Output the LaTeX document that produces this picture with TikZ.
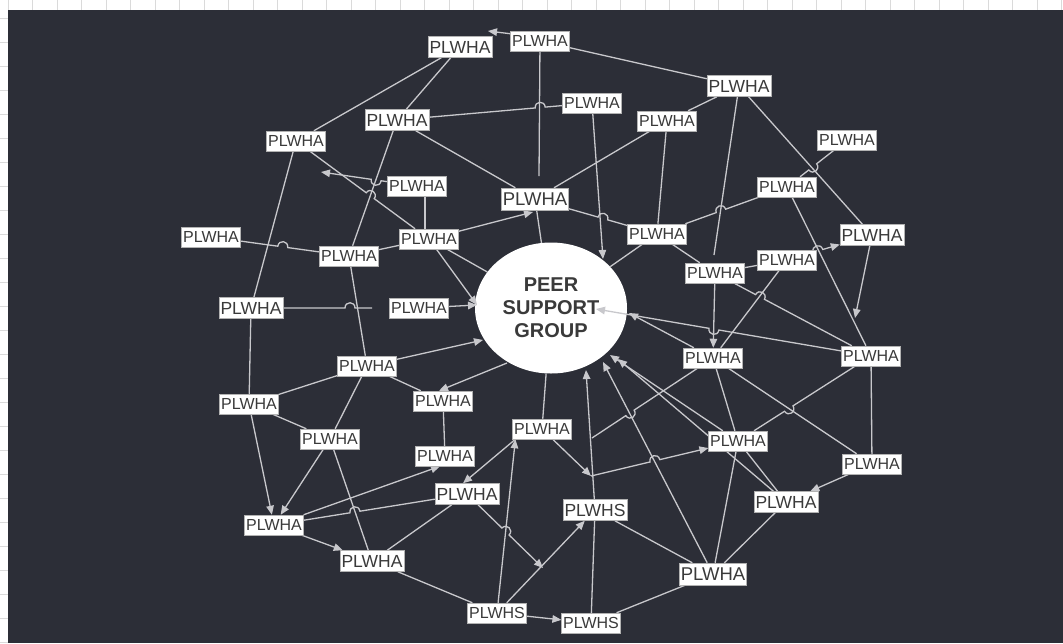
\documentclass[tikz,border=0pt]{standalone}
\usepackage{fontspec}
\setmainfont{Liberation Sans}
\usetikzlibrary{arrows.meta,shapes.geometric,calc}
\definecolor{panel}{HTML}{2C2E37}
\definecolor{wirecol}{HTML}{C8C8CC}
\definecolor{ink}{HTML}{3A3A3A}
\definecolor{gridln}{HTML}{DADADA}
\pgfdeclarelayer{back}
\pgfdeclarelayer{wires}
\pgfsetlayers{back,wires,main}
\tikzset{
  lbl/.style={fill=white, draw=black!30, line width=0.5pt, text=ink, inner xsep=1.5pt, inner ysep=0pt},
  pS/.style={lbl, font=\fontsize{16}{16}\selectfont, minimum height=20pt},
  pM/.style={lbl, font=\fontsize{17.5}{17.5}\selectfont, minimum height=21pt},
  pL/.style={lbl, font=\fontsize{18.5}{18.5}\selectfont, minimum height=22pt},
  wire/.style={draw=wirecol, line width=1.3pt},
  arr/.style={wire, -{Triangle[length=9pt,width=7.5pt]}},
  hub/.style={ellipse, fill=white, minimum width=152pt, minimum height=131pt, inner sep=0pt,
    align=center, font=\fontsize{20}{23}\selectfont\bfseries, text=ink}
}
% connector from #2 to #4 that hops over a crossing near the point #3
\newcommand{\jumpwire}[4][wire]{%
  \path ($(#2)!(#3)!(#4)$) coordinate (hopX);
  \path ($(hopX)!5pt!(#2)$) coordinate (hopA) ($(hopX)!5pt!(#4)$) coordinate (hopB);
  \draw[#1] (#2) -- (hopA) .. controls ($(hopA)!7pt!90:(hopX)$) and ($(hopB)!7pt!-90:(hopX)$) .. (hopB) -- (#4);
}
\begin{document}
\begin{tikzpicture}[x=1pt,y=-1pt]
\useasboundingbox (0,0) rectangle (1063,643);

% sheet grid and dark panel
\begin{pgfonlayer}{back}
  \fill[white] (0,0) rectangle (1063,643);
  \foreach \x in {8,32.5,...,1063} \draw[gridln,line width=0.8pt] (\x,0) -- (\x,10);
  \foreach \y in {18,42,...,643} \draw[gridln,line width=0.8pt] (0,\y) -- (8,\y);
  \fill[panel] (8,10) rectangle (1063,643);
  \node[hub] (c) at (551,308) {PEER\\SUPPORT\\GROUP};
\end{pgfonlayer}

% members
\node[pM] (a1)  at (460,47)  {PLWHA};
\node[pS] (a2)  at (540,41)  {PLWHA};
\node[pM] (a3)  at (739,86)  {PLWHA};
\node[pS] (a4)  at (592,103) {PLWHA};
\node[pM] (a5)  at (397,120) {PLWHA};
\node[pS] (a6)  at (667,121) {PLWHA};
\node[pS] (a7)  at (296,141) {PLWHA};
\node[pS] (a8)  at (847,140) {PLWHA};
\node[pS] (a9)  at (417,186) {PLWHA};
\node[pS] (a10) at (787,187) {PLWHA};
\node[pL] (a11) at (535,199) {PLWHA};
\node[pS] (a12) at (211,237) {PLWHA};
\node[pS] (a13) at (429,239) {PLWHA};
\node[pS] (a14) at (657,234) {PLWHA};
\node[pM] (a15) at (872,235) {PLWHA};
\node[pS] (a16) at (349,256) {PLWHA};
\node[pS] (a17) at (715,273) {PLWHA};
\node[pS] (a18) at (787,260) {PLWHA};
\node[pM] (a19) at (251,308) {PLWHA};
\node[pS] (a20) at (419,308) {PLWHA};
\node[pS] (a21) at (713,358) {PLWHA};
\node[pS] (a22) at (871,356) {PLWHA};
\node[pS] (a23) at (367,366) {PLWHA};
\node[pS] (a24) at (249,404) {PLWHA};
\node[pS] (a25) at (443,401) {PLWHA};
\node[pS] (a26) at (542,429) {PLWHA};
\node[pS] (a27) at (330,439) {PLWHA};
\node[pS] (a28) at (738,441) {PLWHA};
\node[pS] (a29) at (445,456) {PLWHA};
\node[pS] (a30) at (872,464) {PLWHA};
\node[pM] (a31) at (467,494) {PLWHA};
\node[pM] (a32) at (595,510) {PLWHS};
\node[pM] (a33) at (786,502) {PLWHA};
\node[pS] (a34) at (274,525) {PLWHA};
\node[pM] (a35) at (372,561) {PLWHA};
\node[pL] (a36) at (713,574) {PLWHA};
\node[pS] (a37) at (497,613) {PLWHS};
\node[pS] (a38) at (591,623) {PLWHS};

% loose ends and points on the hub
\coordinate (t1) at (488,31);
\coordinate (t2) at (539,176);
\coordinate (t3) at (714,255);
\coordinate (t4) at (321,172);
\coordinate (t5) at (533,212);
\coordinate (t6) at (855,318);
\coordinate (t7) at (592,438);
\coordinate (t8) at (591,476);
\coordinate (t9) at (543,568);
\coordinate (t10) at (372,308);
\coordinate (c1) at (603,259);
\coordinate (cw) at (477,305);
\coordinate (c2) at (596,309);
\coordinate (c3) at (629,313);
\coordinate (c4) at (586,370);
\coordinate (c5) at (603,362);
\coordinate (c6) at (610,355);
\coordinate (c7) at (618,359);
\coordinate (c8) at (483,340);
\coordinate (c9) at (507,363);

\begin{pgfonlayer}{wires}
  % upper part
  \draw[arr] ([yshift=-3pt]a2.north west) -- (t1);
  \draw[wire] (a1) -- (a7);
  \draw[wire] (a1) -- (a5);
  \draw[wire] (a2) -- (a3);
  \draw[wire] (a2) -- (t2);
  \jumpwire{a5}{540,105}{a4}
  \draw[wire] (a5) -- (a11);
  \draw[wire] (a5) -- (a16);
  \draw[wire] (a16) -- (a23);
  \draw[arr] (a4) -- (c1);
  \draw[wire] (a6) -- (a11);
  \draw[wire] (a3) -- (a6);
  \draw[wire] (a6) -- (a14);
  \draw[wire] (a3) -- (t3);
  \draw[wire] (a3) -- (a15);
  \draw[wire] (a7) -- (a19);
  \draw[wire] (a19) -- (a24);
  \jumpwire{a7}{370,196}{a13}
  \draw[arr] (a13) -- (cw);
  \jumpwire[arr]{a9}{377,174}{t4}
  \draw[wire] ([xshift=8pt]a9.south) -- ([xshift=-4pt]a13.north);
  \jumpwire{a12}{283,245}{a16}
  \draw[wire] (a16) -- (a13);
  \draw[arr] (a13) -- (t5);
  \draw[wire] (a11) -- (c);
  \jumpwire{a11}{603,218}{a14}
  \draw[wire] (a13) -- (c);
  \jumpwire{a14}{721,211}{a10}
  \jumpwire{a8}{812,166}{a10}
  \draw[wire] (a10) -- (a22);
  \draw[arr] (a15) -- (t6);
  \jumpwire[arr]{a18}{818,251}{a15}
  \draw[wire] (a18) -- (a17);
  \draw[wire] (a14) -- (c);
  \draw[wire] (a14) -- (a17);
  \jumpwire{a17}{760,297}{a22}
  \draw[arr] (a17) -- (a21);
  \draw[wire] (a18) -- (a21);
  % right and lower part
  \jumpwire[arr]{a22}{714,329}{c2}
  \draw[arr] (a21) -- (c3);
  \draw[wire] (a22) -- (a30);
  \jumpwire{a22}{789,409}{a28}
  \draw[wire] (a21) -- (a30);
  \draw[wire] (a21) -- (a28);
  \draw[arr] (a32) -- (c4);
  \draw[arr] (a36) -- (c5);
  \draw[arr] (a28) -- (c6);
  \draw[arr] (a33) -- (c7);
  \jumpwire{a21}{630,413}{t7}
  \draw[arr] (a26) -- (t8);
  \jumpwire[arr]{t8}{655,461}{a28}
  \draw[wire] (a26) -- (c);
  \draw[arr] ([xshift=3pt]a26.south west) -- ([xshift=-4pt]a31.north);
  \draw[arr] (a37) -- ([xshift=3pt]a26.south west);
  \jumpwire[arr]{a31}{506,531}{t9}
  \draw[arr] (a37) -- (a32);
  \draw[arr] (a37) -- (a38);
  \draw[wire] (a38) -- (a32);
  \draw[wire] (a38) -- (a36);
  \draw[wire] (a32) -- (a36);
  \draw[wire] (a36) -- (a28);
  \draw[wire] (a36) -- (a33);
  \draw[wire] (a28) -- (a33);
  \draw[arr] (a30) -- (a33);
  % left part
  \draw[arr] (a23) -- (c8);
  \draw[arr] (c9) -- ([xshift=-4pt]a25.north);
  \draw[wire] (a23) -- (a25);
  \draw[wire] (a23) -- (a24);
  \draw[wire] (a24) -- (a27);
  \draw[wire] (a23) -- (a27);
  \draw[arr] (a27) -- (a34);
  \draw[arr] (a24) -- (a34);
  \draw[wire] (a25) -- (a29);
  \draw[arr] (a34.north east) -- ([xshift=-5pt]a29.south);
  \jumpwire{a34}{355,512}{a31}
  \draw[arr] (a34) -- (a35);
  \draw[wire] (a27) -- (a35);
  \draw[wire] (a35) -- (a31);
  \draw[wire] (a35) -- (a37);
  \jumpwire{a19}{350,307}{t10}
  \draw[arr] (a20) -- (cw);
\end{pgfonlayer}
\end{tikzpicture}
\end{document}
